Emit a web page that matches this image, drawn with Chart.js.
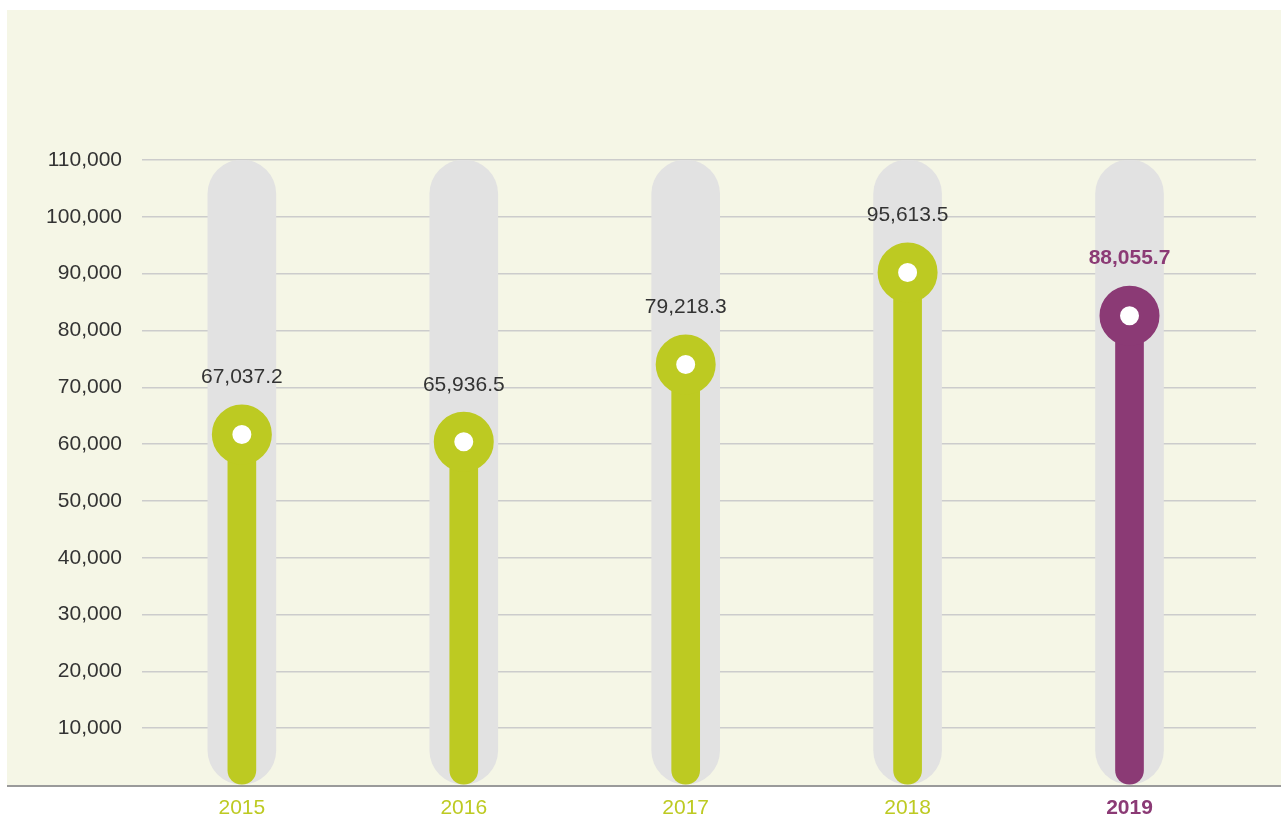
<!DOCTYPE html>
<html>
<head>
<meta charset="utf-8">
<script src="https://cdn.jsdelivr.net/npm/chart.js@4/dist/chart.umd.min.js"></script>
<style>
  html, body { margin: 0; padding: 0; background: #ffffff; overflow: hidden; }
  canvas { display: block; }
</style>
</head>
<body>
<canvas id="chart" width="1281" height="820"></canvas>
<script>
// data
const years = ['2015', '2016', '2017', '2018', '2019'];
const values = [67037.2, 65936.5, 79218.3, 95613.5, 88055.7]; // printed labels
const markerValues = [61700, 60400, 74000, 90200, 82600];     // where the dots sit
const trackMax = [110000, 110000, 110000, 110000, 110000];     // grey tracks
const yTicks = [10000, 20000, 30000, 40000, 50000, 60000, 70000, 80000, 90000, 100000, 110000];

const green = '#bdca22';
const purple = '#8b3a75';
const fontFamily = '"Liberation Sans", Arial, sans-serif';
const colorFor = i => (i === years.length - 1 ? purple : green);

// cream panel + bottom axis line
const panelPlugin = {
    id: 'panel',
    beforeDraw(chart) {
        const ctx = chart.ctx;
        const y0 = chart.scales.y.getPixelForValue(0);
        ctx.save();
        ctx.fillStyle = '#f5f6e6';
        ctx.fillRect(7, 10, chart.width - 7, y0 - 10);
        ctx.restore();
    },
    afterDatasetsDraw(chart) {
        const ctx = chart.ctx;
        const y0 = chart.scales.y.getPixelForValue(0);
        ctx.save();
        ctx.strokeStyle = '#9a9a9a';
        ctx.lineWidth = 2;
        ctx.beginPath();
        ctx.moveTo(7, y0 + 1);
        ctx.lineTo(chart.width, y0 + 1);
        ctx.stroke();
        ctx.restore();
    }
};

// value labels above the dots
const valueLabels = {
    id: 'valueLabels',
    afterDatasetsDraw(chart) {
        const ctx = chart.ctx;
        const meta = chart.getDatasetMeta(0);
        ctx.save();
        ctx.textAlign = 'center';
        ctx.textBaseline = 'middle';
        meta.data.forEach((pt, i) => {
            const last = i === years.length - 1;
            ctx.font = (last ? 'bold ' : '') + '21px ' + fontFamily;
            ctx.fillStyle = last ? purple : '#333333';
            ctx.fillText(values[i].toLocaleString('en-US', { minimumFractionDigits: 1 }), pt.x, pt.y - 57);
        });
        ctx.restore();
    }
};

const ctx = document.getElementById('chart').getContext('2d');
new Chart(ctx, {
    type: 'bar',
    data: {
        datasets: [
            {
                type: 'line',
                data: years.map((y, i) => ({ x: i, y: markerValues[i] })),
                showLine: false,
                pointRadius: 19.75,
                pointBorderWidth: 20.5,
                pointBackgroundColor: '#ffffff',
                pointBorderColor: years.map((y, i) => colorFor(i)),
                order: 1
            },
            {
                data: years.map((y, i) => ({ x: i, y: markerValues[i] })),
                backgroundColor: years.map((y, i) => colorFor(i)),
                barThickness: 28,
                borderRadius: 14,
                borderSkipped: false,
                grouped: false,
                order: 2
            },
            {
                data: years.map((y, i) => ({ x: i, y: trackMax[i] })),
                backgroundColor: '#e2e2e2',
                barThickness: 68,
                borderRadius: 34,
                borderSkipped: false,
                grouped: false,
                order: 3
            }
        ]
    },
    options: {
        responsive: false,
        animation: false,
        layout: { autoPadding: false, padding: { top: 160, right: 25, left: 0, bottom: 0 } },
        plugins: { legend: { display: false }, tooltip: { enabled: false } },
        scales: {
            x: {
                type: 'linear',
                offset: false,
                min: -0.45,
                max: 4.57,
                grid: { display: false, drawTicks: false },
                border: { display: false },
                afterBuildTicks: scale => { scale.ticks = years.map((y, i) => ({ value: i })); },
                afterFit: scale => {
                    scale.height = 35;
                    scale.paddingLeft = 0;
                    scale.paddingRight = 0;
                },
                ticks: {
                    padding: 11,
                    autoSkip: false,
                    maxRotation: 0,
                    callback: v => years[v],
                    color: c => colorFor(c.index),
                    font: c => ({
                        family: fontFamily,
                        size: 21,
                        weight: c.index === years.length - 1 ? 'bold' : 'normal'
                    })
                }
            },
            y: {
                min: 0,
                max: 110000,
                afterBuildTicks: scale => { scale.ticks = [{ value: 0 }].concat(yTicks.map(v => ({ value: v }))); },
                afterFit: scale => {
                    scale.width = 142;
                    scale.paddingTop = 0;
                    scale.paddingBottom = 0;
                },
                border: { display: false },
                grid: {
                    drawTicks: false,
                    color: c => (c.tick && c.tick.value === 0 ? 'rgba(0,0,0,0)' : '#cccccc'),
                    lineWidth: 1.5
                },
                ticks: {
                    padding: 20,
                    color: '#333333',
                    font: { family: fontFamily, size: 21 },
                    callback: v => (v === 0 ? '' : v.toLocaleString('en-US'))
                }
            }
        }
    },
    plugins: [panelPlugin, valueLabels]
});
</script>
</body>
</html>
